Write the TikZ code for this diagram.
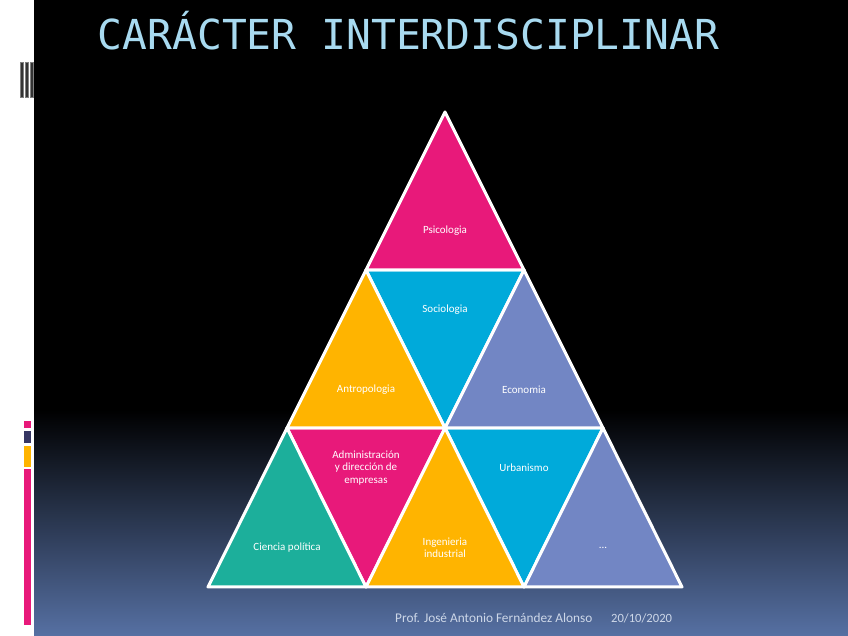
\documentclass[tikz,border=0pt]{standalone}
\usepackage{fontspec}
\setmainfont{Carlito}
\newfontfamily\titlefont{DejaVu Sans Mono}
\definecolor{rosa}{RGB}{232,25,122}
\definecolor{cian}{RGB}{0,170,218}
\definecolor{lila}{RGB}{114,134,196}
\definecolor{ambar}{RGB}{255,180,0}
\definecolor{turquesa}{RGB}{28,175,155}
\definecolor{celeste}{RGB}{168,218,240}
\definecolor{fondo}{RGB}{86,112,163}
\definecolor{pie}{RGB}{205,215,232}

\begin{document}
\begin{tikzpicture}[x=1pt,y=1pt,
    tri/.style={draw=white, line width=3pt, line join=round},
    lbl/.style={text=white, font=\fontsize{11}{12.5}\selectfont, align=center},
    barra/.style={draw=white, line width=0.4pt}]
    % fondo
    \fill[white] (0,0) rectangle (848,636);
    \fill[black] (34,0) rectangle (848,636);
    \shade[top color=black, bottom color=fondo] (34,0) rectangle (848,226);
    % barras de la izquierda
    \foreach \x in {20,25.5,30.5} \fill[black!80, draw=gray] (\x,539) rectangle ++(3,35);
    \fill[barra, fill=rosa] (23,208) rectangle (31,216);
    \fill[barra, fill=gray!70!blue!60!black] (23,193) rectangle (31,206);
    \fill[barra, fill=ambar] (23,169) rectangle (31,191);
    \fill[barra, fill=rosa] (23,11) rectangle (31,168);
    % titulo
    \node[anchor=base west, inner sep=0pt, text=celeste, font=\titlefont\fontsize{41.3}{42}\selectfont] (titulo) at (97.5,586) {CARÁCTER INTERDISCIPLINAR};
    % vertices
    \coordinate (p0) at (445,524);
    \coordinate (p1a) at (366,366);
    \coordinate (p1b) at (524,366);
    \coordinate (p2a) at (287,208);
    \coordinate (p2b) at (445,208);
    \coordinate (p2c) at (603,208);
    \coordinate (p3a) at (208,49);
    \coordinate (p3b) at (366,49);
    \coordinate (p3c) at (524,49);
    \coordinate (p3d) at (682,49);
    % triangulos hacia abajo
    \filldraw[tri, fill=cian] (p1a) -- (p1b) -- (p2b) -- cycle;
    \filldraw[tri, fill=rosa] (p2a) -- (p2b) -- (p3b) -- cycle;
    \filldraw[tri, fill=cian] (p2b) -- (p2c) -- (p3c) -- cycle;
    % triangulos hacia arriba
    \filldraw[tri, fill=rosa] (p0) -- (p1a) -- (p1b) -- cycle;
    \filldraw[tri, fill=ambar] (p1a) -- (p2a) -- (p2b) -- cycle;
    \filldraw[tri, fill=lila] (p1b) -- (p2b) -- (p2c) -- cycle;
    \filldraw[tri, fill=turquesa] (p2a) -- (p3a) -- (p3b) -- cycle;
    \filldraw[tri, fill=ambar] (p2b) -- (p3b) -- (p3c) -- cycle;
    \filldraw[tri, fill=lila] (p2c) -- (p3c) -- (p3d) -- cycle;
    % textos
    \node[lbl] (psico) at (445,405) {Psicologia};
    \node[lbl] (socio) at (445,326) {Sociologia};
    \node[lbl] (antro) at (366,246) {Antropologia};
    \node[lbl] (econo) at (524,246) {Economia};
    \node[lbl] (admin) at (366,168) {Administración\\y dirección de\\empresas};
    \node[lbl] (urban) at (524,168) {Urbanismo};
    \node[lbl] (ciencia) at (287,88) {Ciencia política};
    \node[lbl] (ingen) at (445,88) {Ingenieria\\industrial};
    \node[lbl] (otras) at (603,88) {...};
    % pie
    \node[anchor=base west, inner sep=0pt, text=pie, font=\fontsize{13.3}{14}\selectfont] (autor) at (395,13) {Prof. José Antonio Fernández Alonso};
    \node[anchor=base west, inner sep=0pt, text=pie, font=\fontsize{12.6}{14}\selectfont] (fecha) at (611,13) {20/10/2020};
\end{tikzpicture}
\end{document}
